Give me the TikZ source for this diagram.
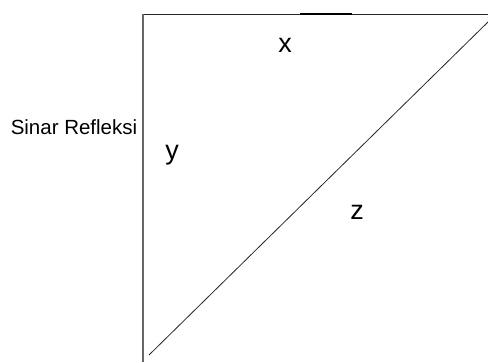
\documentclass[tikz,border=0pt]{standalone}
\usepackage{fontspec}
\setmainfont{Liberation Sans}
\usetikzlibrary{positioning}

\tikzset{
  side/.style={line width=0.8pt,black!85},
  lbl/.style={font=\fontsize{27}{29}\selectfont,inner sep=0pt}
}

\begin{document}
\begin{tikzpicture}[x=1pt,y=-1pt]
  \useasboundingbox (0,0) rectangle (488,362);
  % corners of the triangle
  \coordinate (tl) at (143,14);
  \coordinate (tr) at (488,14);
  \coordinate (bl) at (143,362);
  \coordinate (d1) at (149,355);
  \coordinate (d2) at (488,22);
  \draw[side] (tl) -- (tr);
  \draw[line width=1.2pt,black!60] (tl) -- (bl);
  \draw[side] (d1) -- (d2);
  \draw[line width=1.2pt] (300,14) -- (352,14);
  % labels
  \node[lbl] (lx) at (285,45) {x};
  \node[lbl] (ly) at (172,155) {y};
  \node[lbl] (lz) at (357,212) {z};
  \node[font=\fontsize{20.5}{22}\selectfont,inner sep=0pt] (ray) at (74,127) {Sinar Refleksi};
\end{tikzpicture}
\end{document}
